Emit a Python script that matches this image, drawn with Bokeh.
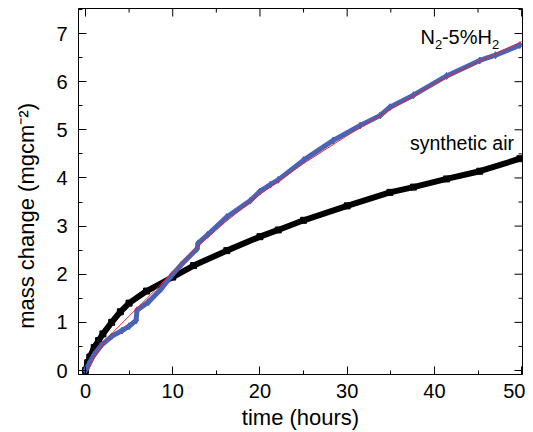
import math
from bokeh.plotting import figure
from bokeh.models import Range1d, Label, FixedTicker
from bokeh.embed import file_html
from bokeh.resources import INLINE

# synthetic air (black)
air_t = [0, 0.25, 0.5, 1, 1.5, 2, 3, 4, 5, 7, 10, 12.4, 16.2, 20, 22.1, 25, 30, 34.9, 37.6, 41.4, 45.2, 49.8]
air_m = [0, 0.16, 0.28, 0.48, 0.62, 0.76, 1.0, 1.22, 1.40, 1.65, 1.94, 2.18, 2.49, 2.78, 2.92, 3.12, 3.42, 3.70, 3.81, 3.98, 4.14, 4.40]

# N2-5%H2 (blue)
h2_t = [0, 0.5, 1, 1.8, 3, 4.2, 5, 5.8, 5.9, 7.2, 8.7, 9.9, 11, 12.8, 12.9, 14, 16.2, 18.9, 20, 21.2, 22.1, 25, 28.4, 31.5, 33.8, 34.9, 37.6, 41.4, 45.2, 47, 49.8]
h2_m = [0, 0.17, 0.33, 0.52, 0.71, 0.83, 0.92, 1.04, 1.25, 1.42, 1.70, 1.98, 2.20, 2.53, 2.64, 2.82, 3.19, 3.53, 3.72, 3.86, 3.96, 4.37, 4.78, 5.09, 5.30, 5.47, 5.72, 6.12, 6.44, 6.55, 6.76]

# fit (red)
fit_t = [0.35, 0.5, 1, 2, 3.3, 5, 6, 7, 8, 9, 10, 11, 13, 16, 20, 25, 30, 35, 40, 45, 50]
fit_m = [0, 0.08, 0.28, 0.55, 0.82, 1.13, 1.31, 1.49, 1.67, 1.86, 2.05, 2.23, 2.60, 3.08, 3.66, 4.30, 4.88, 5.43, 5.96, 6.41, 6.83]

x_ticks = [0, 10, 20, 30, 40, 50]
x_minor = [5, 15, 25, 35, 45]
y_ticks = [0, 1, 2, 3, 4, 5, 6, 7]
y_minor = [0.5, 1.5, 2.5, 3.5, 4.5, 5.5, 6.5, 7.5]

FONT = "Liberation Sans"
BLUE = "#4b63b6"
RED = "#e8262a"
X0, X1, Y0, Y1 = -0.8, 50.1, -0.083, 7.52

p = figure(frame_width=444, frame_height=366, output_backend="svg", toolbar_location=None,
           x_range=Range1d(X0, X1), y_range=Range1d(Y0, Y1),
           min_border_left=78, min_border_right=3, min_border_top=8, min_border_bottom=58)
p.grid.visible = False
p.outline_line_color = "black"
p.background_fill_color = "white"
p.border_fill_color = "white"

p.line(air_t, air_m, line_color="black", line_width=6)
p.scatter(air_t, air_m, marker="square", size=6, line_color="black", fill_color="black")
p.line(h2_t, h2_m, line_color=BLUE, line_width=5)
p.scatter(h2_t, h2_m, marker="diamond", size=7, line_color=BLUE, fill_color=BLUE)
p.line(fit_t, fit_m, line_color=RED, line_width=1)

def style(ax):
    ax.axis_line_color = "black"
    ax.major_tick_in = 8
    ax.major_tick_out = 0
    ax.minor_tick_in = 4
    ax.minor_tick_out = 0
    ax.major_tick_line_color = "black"
    ax.minor_tick_line_color = "black"
    ax.major_label_text_font = FONT
    ax.major_label_text_color = "black"
    ax.major_label_text_font_size = "20px"
    ax.axis_label_text_font = FONT
    ax.axis_label_text_font_style = "normal"
    ax.axis_label_text_color = "black"

p.xaxis.ticker = FixedTicker(ticks=x_ticks, minor_ticks=x_minor)
p.yaxis.ticker = FixedTicker(ticks=y_ticks, minor_ticks=y_minor)
style(p.xaxis[0])
style(p.yaxis[0])
p.xaxis.axis_label = "time (hours)"
p.yaxis.axis_label = "mass change (mgcm⁻²)" + "\u00a0" * 8
p.xaxis.axis_label_text_font_size = "22px"
p.yaxis.axis_label_text_font_size = "22px"
p.xaxis.major_label_standoff = 9
p.yaxis.major_label_standoff = 11
p.xaxis.axis_label_standoff = 4
p.yaxis.axis_label_standoff = 14

# mirrored ticks on top and right (inward)
p.ray(x=x_ticks, y=[Y1] * len(x_ticks), length=8, length_units="screen", angle=-math.pi / 2,
      line_color="black", line_width=1)
p.ray(x=x_minor, y=[Y1] * len(x_minor), length=4, length_units="screen", angle=-math.pi / 2,
      line_color="black", line_width=1)
p.ray(x=[X1] * len(y_ticks), y=y_ticks, length=8, length_units="screen", angle=math.pi,
      line_color="black", line_width=1)
p.ray(x=[X1] * len(y_minor), y=y_minor, length=4, length_units="screen", angle=math.pi,
      line_color="black", line_width=1)

# N2-5%H2 label built from pieces (subscripts)
parts = [("N", 0, 0, "20px"), ("2", 14.5, -7, "13px"), ("-5%H", 21.5, 0, "20px"), ("2", 71.5, -7, "13px")]
for txt, dx, dy, fs in parts:
    p.add_layout(Label(x=38.4, y=6.92, x_offset=dx, y_offset=dy, text=txt, text_font=FONT,
                       text_font_size=fs, text_color="black", text_baseline="middle"))

p.add_layout(Label(x=37.2, y=4.72, text="synthetic air", text_font=FONT, text_font_size="19.5px",
                   text_color="black", text_baseline="middle"))

open("out.html", "w").write(file_html(p, INLINE))
